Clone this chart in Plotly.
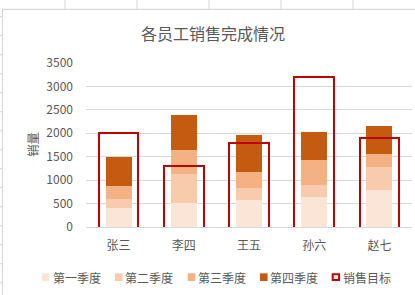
import plotly.graph_objects as go

# ---- data ----
employees = ["张三", "李四", "王五", "孙六", "赵七"]
q1 = [400, 520, 580, 650, 780]
q2 = [200, 610, 260, 250, 510]
q3 = [270, 520, 340, 540, 260]
q4 = [630, 750, 790, 590, 610]
target = [2000, 1300, 1800, 3200, 1900]
series_names = ["第一季度", "第二季度", "第三季度", "第四季度"]
target_name = "销售目标"
y_ticks = [0, 500, 1000, 1500, 2000, 2500, 3000, 3500]

colors = ["#FBE5D6", "#F8CBAD", "#F4B183", "#C55A11"]
target_color = "#C00000"
text_color = "#595959"
grid_color = "#D9D9D9"
FONT = "Noto Sans CJK SC, Liberation Sans, sans-serif"

W, H = 415, 295
ML, MR, MT, MB = 86, 3, 63, 68
PW, PH = W - ML - MR, H - MT - MB


def px2x(px):
    return (px - ML) / PW


def px2y(py):
    return (H - MB - py) / PH


fig = go.Figure()

series = [q1, q2, q3, q4]
base = [0] * len(employees)
for name, vals, col in zip(series_names, series, colors):
    fig.add_trace(go.Bar(
        x=employees, y=vals, base=list(base), name=name, width=0.4,
        marker=dict(color=col, line=dict(width=0)), showlegend=False,
        hoverinfo="skip",
    ))
    base = [b + v for b, v in zip(base, vals)]

# target outline: bottom edge is placed below the axis so it is clipped (open rectangle)
below = -150
fig.add_trace(go.Bar(
    x=employees, y=[t - below for t in target], base=[below] * len(employees),
    name=target_name, width=0.605,
    marker=dict(color="rgba(0,0,0,0)", line=dict(color=target_color, width=2)),
    showlegend=False, hoverinfo="skip",
))

shapes = []
annotations = []

# spreadsheet background + chart card border
line_col = "#D4D4D4"
shapes.append(dict(type="line", xref="paper", yref="paper",
                   x0=px2x(2.5), x1=px2x(W + 5), y0=px2y(9.3), y1=px2y(9.3),
                   line=dict(color=grid_color, width=1.2)))
shapes.append(dict(type="line", xref="paper", yref="paper",
                   x0=px2x(2.5), x1=px2x(2.5), y0=px2y(9.3), y1=px2y(H + 5),
                   line=dict(color=grid_color, width=1.2)))
for cx in [65, 137, 209, 281, 353]:
    shapes.append(dict(type="line", xref="paper", yref="paper",
                       x0=px2x(cx), x1=px2x(cx), y0=px2y(0), y1=px2y(8.8),
                       line=dict(color=line_col, width=1)))
for k in range(15):
    ry = 16.7 + 19 * k
    shapes.append(dict(type="line", xref="paper", yref="paper",
                       x0=px2x(0), x1=px2x(2), y0=px2y(ry), y1=px2y(ry),
                       line=dict(color=line_col, width=1)))

# manual legend
leg_y0, leg_y1 = 273.3, 281.0
marker_x = [41.7, 115.0, 187.7, 260.0, 331.7]
text_x = [50.5, 123.0, 195.5, 268.0, 340.5]
for i in range(4):
    shapes.append(dict(type="rect", xref="paper", yref="paper",
                       x0=px2x(marker_x[i]), x1=px2x(marker_x[i] + 7.6),
                       y0=px2y(leg_y1), y1=px2y(leg_y0),
                       fillcolor=colors[i], line=dict(width=0)))
shapes.append(dict(type="rect", xref="paper", yref="paper",
                   x0=px2x(marker_x[4] + 1), x1=px2x(marker_x[4] + 7.4),
                   y0=px2y(leg_y1 - 1), y1=px2y(leg_y0 + 1),
                   fillcolor="white", line=dict(color=target_color, width=2)))
for nm, tx in zip(series_names + [target_name], text_x):
    annotations.append(dict(text=nm, xref="paper", yref="paper",
                            x=px2x(tx), y=px2y(277.2), xanchor="left", yanchor="middle",
                            showarrow=False, font=dict(size=12, color=text_color, family=FONT)))

# y axis title
annotations.append(dict(text="销量", xref="paper", yref="paper",
                        x=px2x(32), y=px2y(145), xanchor="center", yanchor="middle",
                        textangle=-90, showarrow=False,
                        font=dict(size=12.5, color=text_color, family=FONT)))

fig.update_layout(
    width=W, height=H,
    margin=dict(l=ML, r=MR, t=MT, b=MB, pad=0),
    paper_bgcolor="white", plot_bgcolor="white",
    barmode="overlay", bargap=0,
    font=dict(family=FONT, color=text_color, size=12),
    title=dict(text="各员工销售完成情况", x=213 / W, xanchor="center",
               y=1 - 34 / H, yanchor="middle",
               font=dict(size=16, color=text_color, family=FONT)),
    xaxis=dict(showgrid=False, showline=True, linecolor=grid_color, linewidth=1,
               ticks="", tickfont=dict(size=12, color=text_color),
               ticklabelstandoff=8, layer="above traces"),
    yaxis=dict(range=[0, 3500], tickvals=y_ticks, showgrid=True, gridcolor=grid_color,
               gridwidth=1, zeroline=False, showline=False, ticks="",
               tickfont=dict(size=12, color=text_color), ticklabelstandoff=12),
    shapes=shapes, annotations=annotations,
    showlegend=False,
)

fig.write_html("out.html")
